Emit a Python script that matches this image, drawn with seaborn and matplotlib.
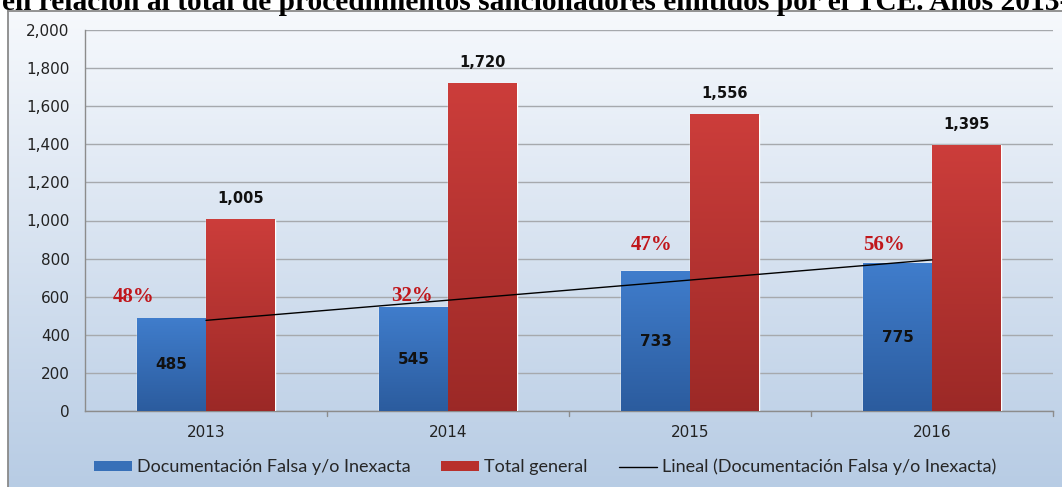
import numpy as np
import pandas as pd
import matplotlib
matplotlib.use("Agg")
import matplotlib.pyplot as plt
import seaborn as sns
from matplotlib import font_manager as fm
from matplotlib.patches import Patch, Rectangle
from matplotlib.lines import Line2D
from matplotlib.ticker import FuncFormatter

# ---- data ----
years = ["2013", "2014", "2015", "2016"]
doc_falsa = [485, 545, 733, 775]
total_general = [1005, 1720, 1556, 1395]
pct_labels = ["48%", "32%", "47%", "56%"]
series_names = ["Documentación Falsa y/o Inexacta", "Total general"]
trend_name = "Lineal (Documentación Falsa y/o Inexacta)"
title_text = "en relación al total de procedimientos sancionadores emitidos por el TCE. Años 2013-2016"

sns.set_theme(style="white")
avail = {f.name for f in fm.fontManager.ttflist}
narrow = "Liberation Sans Narrow" if "Liberation Sans Narrow" in avail else "Lato"
plt.rcParams["font.family"] = ["DejaVu Sans"]

df = pd.DataFrame({
    "Año": years * 2,
    "Serie": [series_names[0]] * 4 + [series_names[1]] * 4,
    "Valor": doc_falsa + total_general,
})

W, H = 1062, 487
fig = plt.figure(figsize=(W / 100, H / 100), dpi=100)

# background gradient (chart area)
bg = fig.add_axes([8 / W, 0, 1 - 8 / W, (H - 11) / H], zorder=0)
grad = np.linspace(0, 1, 256).reshape(-1, 1)
top_c = np.array([0.965, 0.975, 0.99])
bot_c = np.array([0.72, 0.80, 0.895])
img = top_c[None, None, :] * (1 - grad[:, :, None]) + bot_c[None, None, :] * grad[:, :, None]
bg.imshow(img, aspect="auto", extent=[0, 1, 0, 1])
bg.set_xlim(0, 1); bg.set_ylim(0, 1)
bg.set_xticks([]); bg.set_yticks([])
for s in bg.spines.values():
    s.set_color("#8a8a8a"); s.set_linewidth(1.3)
bg.spines["right"].set_visible(False)
bg.spines["bottom"].set_visible(False)

ax = fig.add_axes([85 / W, (H - 411) / H, (1053 - 85) / W, (411 - 30) / H], zorder=2)
ax.patch.set_alpha(0)

sns.barplot(data=df, x="Año", y="Valor", hue="Serie", order=years,
            hue_order=series_names, palette=["#3a76c0", "#c23a35"],
            width=0.57, gap=0, saturation=1, ax=ax, legend=False, zorder=3)

ax.set_ylim(0, 2000)
ax.set_xlim(-0.5, 3.5)

# gradient fills for bars
grads = {
    0: (np.array([0.25, 0.49, 0.80]), np.array([0.17, 0.36, 0.62])),
    1: (np.array([0.80, 0.24, 0.23]), np.array([0.61, 0.16, 0.15])),
}
bars = [p for p in ax.patches if isinstance(p, Rectangle)]
for i, p in enumerate(bars):
    s = 0 if i < 4 else 1
    x0, y0, w, h = p.get_x(), p.get_y(), p.get_width(), p.get_height()
    c1, c2 = grads[s]
    ax.imshow(c1[None, None, :] * (1 - grad[:, :, None]) + c2[None, None, :] * grad[:, :, None],
              aspect="auto", extent=[x0, x0 + w, y0, y0 + h], origin="upper", zorder=3.5)
ax.set_ylim(0, 2000)
ax.set_xlim(-0.5, 3.5)

# labels
for i, p in enumerate(bars):
    x0, w, h = p.get_x(), p.get_width(), p.get_height()
    if i < 4:
        ax.text(x0 + w / 2, h / 2, f"{int(h):,}", ha="center", va="center",
                fontsize=11, fontweight="bold", color="#111111", zorder=6)
    else:
        ax.text(x0 + w / 2, h + 70, f"{int(h):,}", ha="center", va="bottom",
                fontsize=10.5, fontweight="bold", color="#111111", zorder=6)

# trendline (linear fit of doc_falsa)
xs = np.arange(len(years))
m, b = np.polyfit(xs, doc_falsa, 1)
ax.plot([xs[0], xs[-1]], [m * xs[0] + b, m * xs[-1] + b], color="black", lw=1.0, zorder=5)

# percentage labels (placement offsets)
pct_pos = [(-0.30, 600), (-0.15, 605), (-0.16, 874), (-0.20, 874)]
for i, lab in enumerate(pct_labels):
    dx, yy = pct_pos[i]
    ax.text(i + dx, yy, lab, ha="center", va="center", fontsize=15, fontweight="bold",
            color="#c0161b", family="Liberation Serif", zorder=6)

# axes styling
ax.set_yticks(range(0, 2001, 200))
ax.yaxis.set_major_formatter(FuncFormatter(lambda v, _: f"{int(v):,}"))
ax.grid(axis="y", color="#a6a9ad", lw=1.0, zorder=1)
ax.set_axisbelow(True)
for s in ["top", "right"]:
    ax.spines[s].set_visible(False)
for s in ["left", "bottom"]:
    ax.spines[s].set_color("#8c8c8c"); ax.spines[s].set_linewidth(1.0)
ax.tick_params(axis="y", length=5, color="#8c8c8c", labelsize=11, labelcolor="#222222", pad=6)
ax.tick_params(axis="x", length=0, labelsize=11, labelcolor="#222222", pad=10)
for xb in [0.5, 1.5, 2.5, 3.5]:
    ax.plot([xb, xb], [0, -25], color="#8c8c8c", lw=1.0, clip_on=False, zorder=2)
ax.set_xlabel(""); ax.set_ylabel("")

# legend
handles = [Patch(facecolor="#3770b8", edgecolor="none"),
           Patch(facecolor="#b8302c", edgecolor="none"),
           Line2D([0], [0], color="black", lw=1.0)]
leg = fig.legend(handles, series_names + [trend_name], loc="center",
                 bbox_to_anchor=(545 / W, (H - 467) / H), ncol=3, frameon=False,
                 prop={"family": narrow, "size": 13}, handlelength=2.1, handleheight=0.5,
                 columnspacing=1.7, handletextpad=0.28)

# title (cut at top)
fig.text(2 / W, (H - 9.5) / H, title_text, ha="left", va="baseline",
         fontsize=21.2, fontweight="bold", family="Liberation Serif", color="black")

fig.savefig("out.png", dpi=100)
